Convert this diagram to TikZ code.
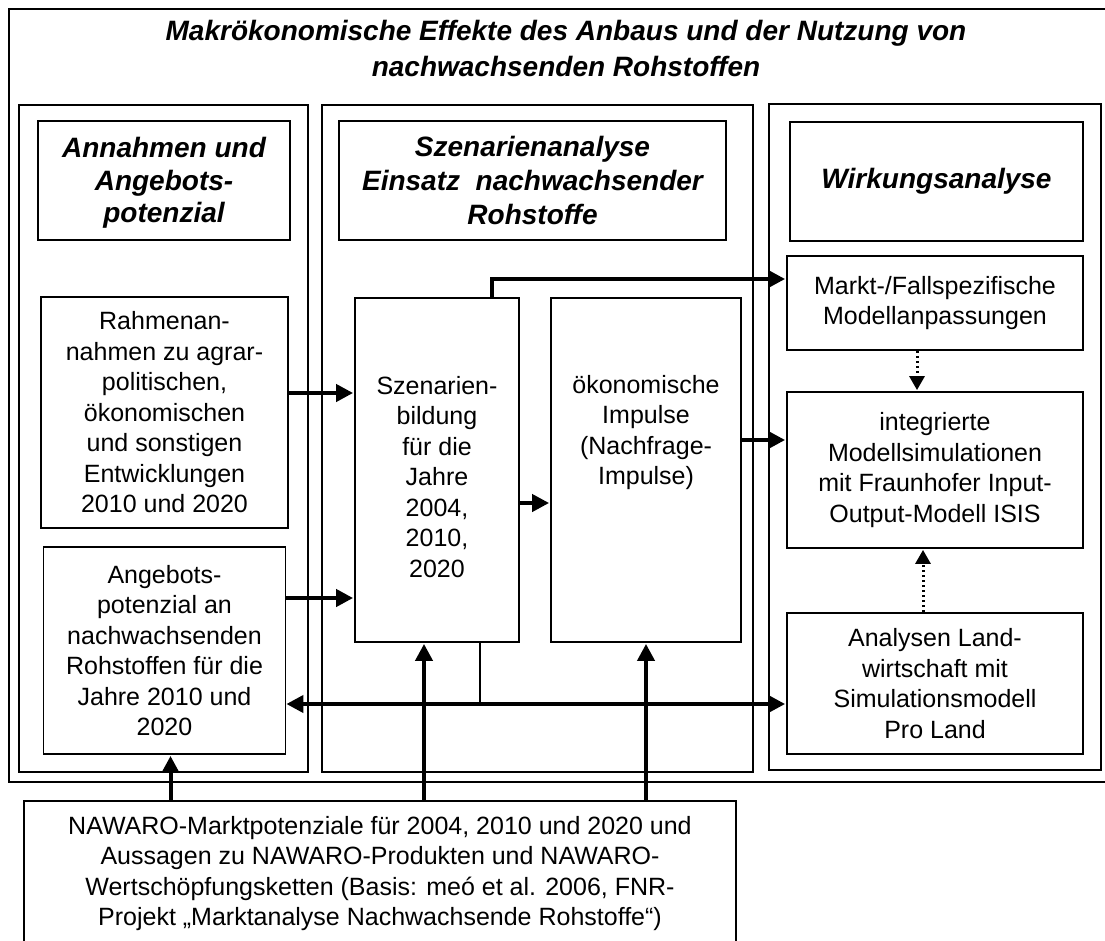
\documentclass[tikz,border=0pt]{standalone}
\usepackage{fontspec}
\setmainfont{Liberation Sans}
\usetikzlibrary{arrows.meta}
\usetikzlibrary{positioning}

\tikzset{
  box/.style={draw, line width=1.8pt, align=center, inner sep=0pt,
    font=\fontsize{25}{30.5}\selectfont},
  kopf/.style={box, minimum height=119pt,
    font=\bfseries\itshape\fontsize{28}{34}\selectfont},
  titel/.style={align=center, font=\bfseries\itshape\fontsize{28}{36}\selectfont},
  spalte/.style={draw, line width=1.8pt},
  pfeil/.style={-{Triangle[length=17pt,width=17pt]}, line width=4pt},
  doppelpfeil/.style={{Triangle[length=17pt,width=17pt]}-{Triangle[length=17pt,width=17pt]}, line width=4pt},
  punktpfeil/.style={-{Triangle[length=14pt,width=15pt]}, line width=3pt, dash pattern=on 2.5pt off 2.5pt},
  linie/.style={line width=1.8pt}
}

\begin{document}
\begin{tikzpicture}[x=1pt,y=-1pt,shorten >=1pt,on grid]
  \useasboundingbox (0,0) rectangle (1105,940);

  % frames
  \draw[spalte] (9,9) rectangle (1121,782);
  \draw[spalte] (19,105) rectangle (308,772);
  \draw[spalte] (322,105) rectangle (753,772);
  \draw[spalte] (769,104) rectangle (1101,770);

  \node[titel] (titel) at (566,48) {Makrökonomische Effekte des Anbaus und der Nutzung von\\nachwachsenden Rohstoffen};

  \node[kopf, minimum width=252pt, font=\bfseries\itshape\fontsize{28}{32.5}\selectfont] (kopfA) at (164,180.5)
    {\mbox{}\\[-7.5pt]Annahmen und\\Angebots-\\potenzial};
  \node[kopf, minimum width=387pt] (kopfB) at (532.5,180.5) {Szenarienanalyse\\Einsatz \ nachwachsender\\Rohstoffe};
  \node[kopf, minimum width=293pt] (kopfC) at (936.5,181.5) {Wirkungsanalyse};

  % left column
  \node[box, minimum width=247pt, minimum height=231pt] (rahmen) at (164.5,412.5)
    {Rahmenan-\\nahmen zu agrar-\\politischen,\\ökonomischen\\und sonstigen\\Entwicklungen\\2010 und 2020};
  \node[box, minimum width=242pt, minimum height=207pt] (angebot) [below=238pt of rahmen]
    {Angebots-\\potenzial an\\nachwachsenden\\Rohstoffen für die\\Jahre 2010 und\\2020};

  % middle column
  \node[box, minimum width=164pt, minimum height=344pt] (szen) at (437,470)
    {\mbox{}\\[1.5pt]Szenarien-\\bildung\\für die\\Jahre\\2004,\\2010,\\2020};
  \node[box, minimum width=190pt, minimum height=344pt] (impuls) [right=209pt of szen]
    {ökonomische\\Impulse\\(Nachfrage-\\Impulse)\\[50pt]\mbox{}};

  % right column
  \node[box, minimum width=296pt, minimum height=94pt] (markt) at (935,303)
    {Markt-/Fallspezifische\\Modellanpassungen};
  \node[box, minimum width=296pt, minimum height=156pt] (isis) [below=167pt of markt]
    {integrierte\\Modellsimulationen\\mit Fraunhofer Input-\\Output-Modell ISIS};
  \node[box, minimum width=296pt, minimum height=141pt] (proland) [below=213.5pt of isis]
    {Analysen Land-\\wirtschaft mit\\Simulationsmodell\\Pro Land};

  \node[box, minimum width=712pt, minimum height=145pt] (nawaro) at (380,873.5)
    {NAWARO-Marktpotenziale für 2004, 2010 und 2020 und\\Aussagen zu NAWARO-Produkten und NAWARO-\\Wertschöpfungsketten (Basis: meó et al. 2006, FNR-\\Projekt „Marktanalyse Nachwachsende Rohstoffe“)};

  % connectors
  \coordinate (r1) at ([yshift=19.5pt]rahmen.east);
  \coordinate (a1) at ([yshift=52.5pt]angebot.east);
  \coordinate (a2) at ([yshift=-53.5pt]angebot.east);
  \coordinate (s1) at ([yshift=-33pt]szen.east);
  \coordinate (s2) at ([xshift=43pt]szen.south);
  \coordinate (s3) at ([xshift=55pt]szen.north);
  \coordinate (i1) at ([yshift=30pt]impuls.east);
  \coordinate (m1) at ([xshift=-18pt]markt.south);
  \coordinate (p1) at ([xshift=-12pt]proland.north);
  \coordinate (n1) at ([xshift=6pt]angebot.south);
  \coordinate (n2) at ([xshift=-13pt]szen.south);

  \draw[pfeil] (r1) -- (r1 -| szen.west);
  \draw[pfeil] (a1) -- (a1 -| szen.west);
  \draw[pfeil] (s1) -- (s1 -| impuls.west);
  \draw[pfeil] (s3) |- ([yshift=24pt]markt.west);
  \draw[pfeil] (i1) -- (i1 -| isis.west);
  \draw[doppelpfeil] (a2) -- (a2 -| proland.west);
  \draw[linie] (s2) -- (s2 |- a2);
  \draw[punktpfeil] (m1) -- (m1 |- isis.north);
  \draw[punktpfeil] (p1) -- (p1 |- isis.south);
  \draw[pfeil] (n1 |- nawaro.north) -- (n1);
  \draw[pfeil] (n2 |- nawaro.north) -- (n2);
  \draw[pfeil] (impuls.south |- nawaro.north) -- (impuls.south);
\end{tikzpicture}
\end{document}
